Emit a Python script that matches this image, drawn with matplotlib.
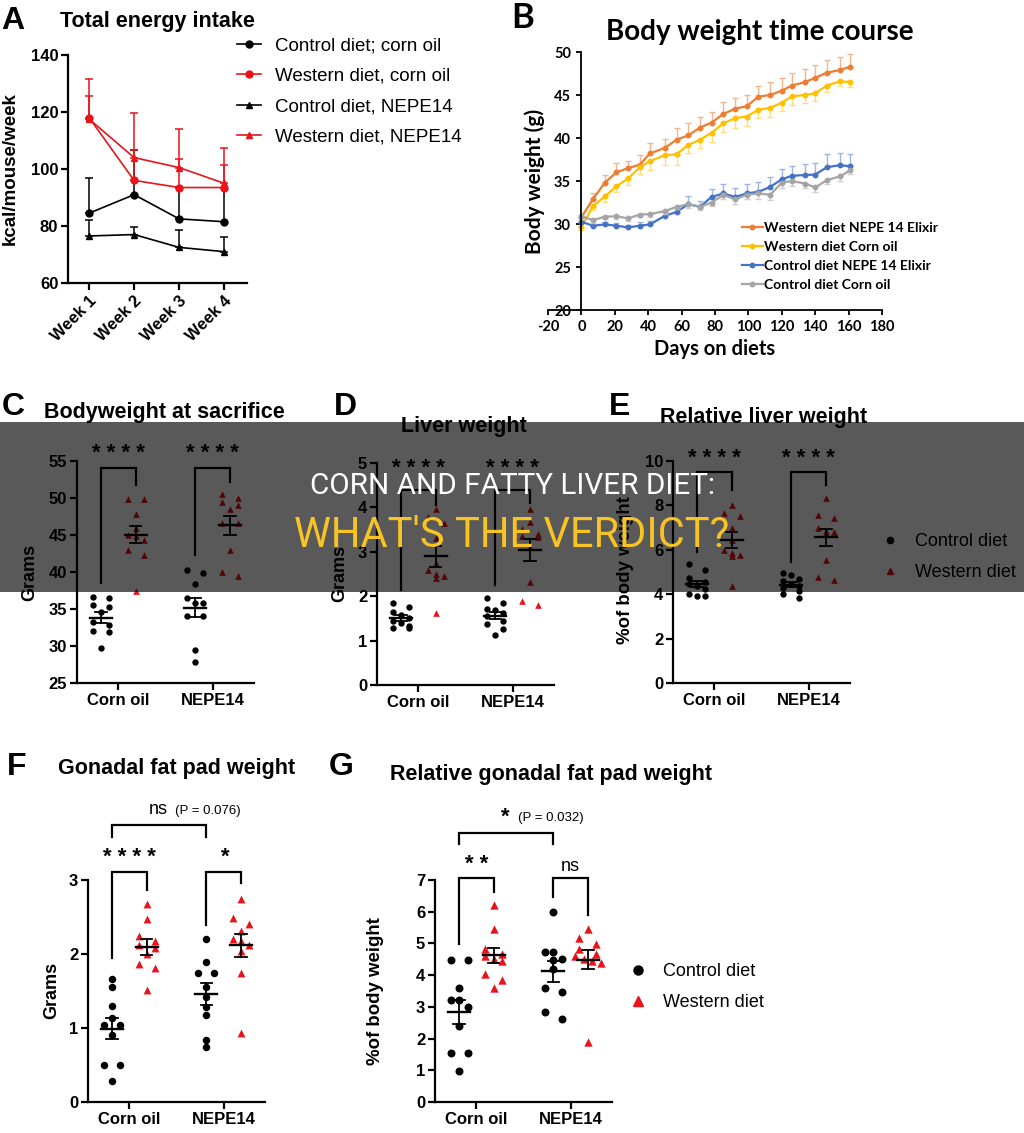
import matplotlib.pyplot as plt
import numpy as np
from matplotlib.lines import Line2D
from matplotlib.patches import Rectangle

plt.rcParams['font.family'] = ['Liberation Sans', 'DejaVu Sans']
plt.rcParams['font.weight'] = 'bold'
plt.rcParams['axes.unicode_minus'] = False

W, H = 1024, 1133
RED = '#E8141B'

# ---------------- panel A: total energy intake
weeks = ['Week 1', 'Week 2', 'Week 3', 'Week 4']
a_ctrl_corn = [84.5, 91.0, 82.5, 81.5]
a_ctrl_corn_err = [12.5, 15.5, 11.0, 12.0]
a_west_corn = [118.0, 96.0, 93.5, 93.5]
a_west_corn_err = [13.5, 23.5, 20.5, 14.0]
a_ctrl_nepe = [76.5, 77.0, 72.5, 71.0]
a_ctrl_nepe_err = [5.5, 2.5, 6.0, 5.0]
a_west_nepe = [117.5, 104.0, 100.5, 95.0]
a_west_nepe_err = [8.0, 2.5, 3.0, 6.5]
a_labels = ['Control diet; corn oil', 'Western diet, corn oil',
            'Control diet, NEPE14', 'Western diet, NEPE14']

# ---------------- panel B: body weight time course
days = [0, 7, 14, 21, 28, 35, 41, 50, 57, 64, 71, 78, 85, 92, 99, 106,
        113, 120, 126, 134, 140, 147, 155, 161]
b_west_nepe = [30.8, 32.9, 34.8, 36.0, 36.5, 36.9, 38.2, 38.85, 39.8, 40.3, 41.2, 41.8,
               42.8, 43.4, 43.7, 44.8, 45.0, 45.5, 46.1, 46.5, 47.0, 47.6, 47.9, 48.3]
b_west_nepe_err = [0.3, 0.7, 0.9, 1.15, 0.8, 1.1, 1.2, 1.05, 1.4, 1.4, 1.25, 1.2,
                   1.4, 1.2, 1.3, 1.2, 1.5, 1.5, 1.45, 1.55, 1.45, 1.5, 1.5, 1.5]
b_west_corn = [29.6, 32.1, 33.2, 34.4, 35.3, 36.6, 37.3, 38.0, 38.1, 39.2, 39.8, 40.6,
               41.7, 42.3, 42.5, 43.3, 43.5, 44.1, 44.85, 45.0, 45.2, 46.1, 46.6, 46.5]
b_west_corn_err = [0.3, 0.5, 0.6, 0.7, 0.8, 0.8, 1.0, 1.1, 1.2, 0.9, 1.0, 1.1,
                   1.0, 1.1, 1.1, 1.0, 1.0, 1.0, 1.0, 0.9, 0.9, 0.8, 0.6, 0.6]
b_ctrl_nepe = [30.25, 29.8, 29.95, 29.8, 29.6, 29.8, 29.95, 30.95, 31.4, 32.3, 32.0, 33.15,
               33.55, 33.15, 33.55, 33.75, 34.3, 35.2, 35.6, 35.7, 35.75, 36.6, 36.85, 36.7]
b_ctrl_nepe_err = [0.3, 0.2, 0.3, 0.3, 0.3, 0.4, 0.4, 0.4, 0.5, 0.9, 0.7, 0.95,
                   1.15, 1.0, 1.1, 1.1, 1.2, 1.25, 1.2, 1.3, 1.4, 1.5, 1.45, 1.4]
b_ctrl_corn = [30.9, 30.45, 30.85, 30.9, 30.65, 31.1, 31.15, 31.5, 32.0, 32.3, 32.0, 32.5,
               33.4, 32.85, 33.4, 33.55, 33.4, 34.8, 35.0, 34.7, 34.25, 35.1, 35.55, 36.25]
b_ctrl_corn_err = [0.3, 0.3, 0.3, 0.3, 0.3, 0.3, 0.3, 0.3, 0.3, 0.4, 0.4, 0.4,
                   0.5, 0.5, 0.5, 0.6, 0.6, 0.6, 0.6, 0.5, 0.5, 0.5, 0.5, 0.4]
b_labels = ['Western diet NEPE 14 Elixir', 'Western diet Corn oil',
            'Control diet NEPE 14 Elixir', 'Control diet Corn oil']
b_colors = ['#ED7D31', '#FFC000', '#4472C4', '#A5A5A5']
b_err_colors = ['#F4B58C', '#FFDD80', '#9DB5E2', '#CFCFCF']

# ---------------- panels C-G: individual mice
groups = ['Corn oil', 'NEPE14']

c_ctrl = [[36.6, 36.5, 35.6, 35.3, 34.6, 33.2, 32.9, 31.9, 32.0, 29.7],
          [39.8, 40.3, 38.4, 36.5, 35.8, 35.8, 34.0, 34.0, 29.5, 27.8]]
c_west = [[49.8, 49.8, 47.9, 46.0, 45.0, 44.9, 44.3, 43.0, 42.3, 37.4],
          [50.0, 50.5, 49.1, 49.5, 48.5, 46.6, 46.6, 43.0, 39.4, 40.0]]

d_ctrl = [[1.84, 1.75, 1.65, 1.58, 1.52, 1.45, 1.40, 1.32, 1.28, 1.28],
          [1.95, 1.84, 1.72, 1.68, 1.62, 1.55, 1.45, 1.38, 1.27, 1.12]]
d_west = [[3.97, 3.78, 3.65, 3.30, 2.75, 2.58, 2.50, 2.45, 2.40, 1.62],
          [3.97, 3.67, 3.52, 3.41, 3.34, 3.36, 3.10, 2.33, 1.80, 1.89]]

e_ctrl = [[5.35, 5.10, 4.75, 4.55, 4.45, 4.35, 4.25, 4.00, 3.90, 3.90],
          [4.95, 4.85, 4.70, 4.60, 4.45, 4.35, 4.30, 4.15, 4.00, 3.85]]
e_west = [[8.02, 7.68, 7.53, 7.00, 6.45, 6.00, 5.85, 5.77, 5.70, 4.35],
          [8.32, 7.57, 7.42, 7.00, 6.85, 6.80, 6.72, 5.52, 4.77, 4.62]]

f_ctrl = [[1.66, 1.56, 1.30, 1.14, 1.04, 1.04, 0.90, 0.50, 0.50, 0.29],
          [2.20, 1.89, 1.74, 1.74, 1.56, 1.42, 1.28, 1.18, 0.84, 0.74]]
f_west = [[2.68, 2.47, 2.24, 2.17, 2.12, 2.08, 2.00, 1.87, 1.81, 1.52],
          [2.75, 2.49, 2.41, 2.31, 2.20, 2.17, 2.12, 2.04, 1.75, 0.93]]

g_ctrl = [[4.47, 4.47, 3.60, 3.21, 3.21, 3.00, 2.40, 1.53, 1.53, 0.98],
          [6.00, 4.72, 4.72, 4.47, 4.50, 4.20, 3.47, 3.60, 2.84, 2.63]]
g_west = [[6.21, 5.44, 4.84, 4.68, 4.60, 4.52, 4.45, 4.05, 3.85, 3.58],
          [5.44, 5.18, 4.98, 4.84, 4.68, 4.60, 4.50, 4.45, 4.37, 1.89]]

fig = plt.figure(figsize=(W / 100, H / 100), dpi=100)


def px_axes(x0, y0, x1, y1):
    return fig.add_axes([x0 / W, 1 - y1 / H, (x1 - x0) / W, (y1 - y0) / H])


def ftext(x, y, s, **kw):
    return fig.text(x / W, 1 - y / H, s, **kw)


def prism(ax, size=12):
    for s in ['top', 'right']:
        ax.spines[s].set_visible(False)
    for s in ['left', 'bottom']:
        ax.spines[s].set_linewidth(1.6)
    ax.tick_params(width=1.6, length=5, labelsize=size, pad=2)


# ================= A =================
axA = px_axes(68, 55, 247, 283)
prism(axA)
xw = np.arange(1, 5)
for vals, err, col, mk in [(a_ctrl_corn, a_ctrl_corn_err, 'k', 'o'),
                           (a_west_corn, a_west_corn_err, RED, 'o'),
                           (a_ctrl_nepe, a_ctrl_nepe_err, 'k', '^'),
                           (a_west_nepe, a_west_nepe_err, RED, '^')]:
    axA.errorbar(xw, vals, yerr=[np.zeros(4), err], fmt='none', ecolor=col,
                 elinewidth=1.1, capsize=3, capthick=1.1)
    axA.plot(xw, vals, color=col, marker=mk, ms=5, lw=1.2)
axA.set_xlim(0.53, 4.51)
axA.set_ylim(60, 140)
axA.set_yticks([60, 80, 100, 120, 140])
axA.set_xticks(xw, weeks, rotation=45, ha='right', rotation_mode='anchor')
ftext(10, 169, 'kcal/mouse/week', rotation=90, ha='center', va='center', fontsize=13.5)
ftext(1, 29, 'A', fontsize=23)
ftext(60, 27, 'Total energy intake', fontsize=15.5)
hA = [Line2D([], [], color='k', marker='o', ms=5, lw=1.2),
      Line2D([], [], color=RED, marker='o', ms=5, lw=1.2),
      Line2D([], [], color='k', marker='^', ms=5, lw=1.2),
      Line2D([], [], color=RED, marker='^', ms=5, lw=1.2)]
fig.legend(hA, a_labels, loc='upper left', bbox_to_anchor=(237 / W, 1 - 37 / H),
           frameon=False, prop={'size': 13.5, 'weight': 'normal'}, handlelength=1.3,
           handletextpad=0.75, labelspacing=0.72, borderpad=0, borderaxespad=0)

# ================= B =================
axB = px_axes(548, 52, 882, 310)
axB.set_xlim(-20, 180)
axB.set_ylim(20, 50)
axB.spines['left'].set_position(('data', 0))
for s in ['top', 'right']:
    axB.spines[s].set_visible(False)
for s in ['left', 'bottom']:
    axB.spines[s].set_linewidth(1.3)
b_series = [(b_west_nepe, b_west_nepe_err, 'up'), (b_west_corn, b_west_corn_err, 'down'),
            (b_ctrl_nepe, b_ctrl_nepe_err, 'up'), (b_ctrl_corn, b_ctrl_corn_err, 'down')]
for (vals, err, side), col, ecol, lab in zip(b_series, b_colors, b_err_colors, b_labels):
    z = np.zeros(len(err))
    yerr = [z, err] if side == 'up' else [err, z]
    axB.errorbar(days, vals, yerr=yerr, fmt='none', ecolor=ecol, elinewidth=1,
                 capsize=2.2, capthick=1)
    axB.plot(days, vals, color=col, marker='o', ms=3.2, lw=1.6, label=lab)
axB.set_yticks(range(20, 51, 5))
axB.set_xticks(range(-20, 181, 20))
axB.tick_params(width=1.3, length=3.5, labelsize=10.5, pad=4)
for lab in axB.get_xticklabels() + axB.get_yticklabels():
    lab.set_fontfamily('Lato')
axB.legend(loc='upper left', bbox_to_anchor=(742 / W, 1 - 222 / H),
           bbox_transform=fig.transFigure, frameon=False,
           prop={'family': 'Lato', 'weight': 'bold', 'size': 10}, handlelength=1.5,
           handletextpad=0.1, labelspacing=0.5, borderpad=0, borderaxespad=0)
ftext(511, 28, 'B', fontsize=25, family='Lato')
ftext(760, 40, 'Body weight time course', fontsize=20, family='Lato', ha='center')
ftext(535, 181, 'Body weight (g)', rotation=90, ha='center', va='center',
      fontsize=15, family='Lato')
ftext(715, 355, 'Days on diets', ha='center', fontsize=14.5, family='Lato')

# ================= C-G =================
OFF = 0.185


def swarm_x(ax, xc, vals, d_px, lane_px):
    # spread points whose markers would overlap into side-by-side lanes
    x0, x1 = ax.get_xlim()
    ppu = ax.get_position().width * W / (x1 - x0)
    vals = np.asarray(vals, float)
    ypx = ax.transData.transform(np.column_stack([np.full(len(vals), xc), vals]))[:, 1]
    xs = np.full(len(vals), float(xc))
    bins = []
    for i in np.argsort(-ypx):
        if bins and abs(ypx[bins[-1][0]] - ypx[i]) < d_px:
            bins[-1].append(i)
        else:
            bins.append([i])
    for b in bins:
        n = len(b)
        step = lane_px * (2 if n == 2 else 1)
        for k, i in enumerate(b):
            xs[i] = xc + (k - (n - 1) / 2) * step / ppu
    return xs


def mean_sem(ax, xc, vals):
    v = np.asarray(vals)
    m = v.mean()
    se = v.std(ddof=1) / np.sqrt(len(v))
    ax.plot([xc - 0.12, xc + 0.12], [m, m], color='k', lw=1.7, zorder=5)
    ax.plot([xc, xc], [m - se, m + se], color='k', lw=1.3, zorder=5)
    for yy in (m - se, m + se):
        ax.plot([xc - 0.06, xc + 0.06], [yy, yy], color='k', lw=1.3, zorder=5)


def bracket(ax, xa, xb, ya, yb, ytop):
    ax.plot([xa, xa, xb, xb], [ya, ytop, ytop, yb], color='k', lw=1.6,
            clip_on=False, solid_joinstyle='miter')


def dot_panel(x0, y0, y1, ylim, yticks, ctrl, west, s, d_px, lane_px):
    ax = px_axes(x0, y0, x0 + 177, y1)
    ax.set_xlim(-0.44, 1.44)
    ax.set_ylim(*ylim)
    prism(ax)
    ax.set_yticks(yticks)
    ax.set_xticks([0, 1], groups)
    for g in range(2):
        xc = g - OFF
        ax.scatter(swarm_x(ax, xc, ctrl[g], d_px, lane_px), ctrl[g], s=s, marker='o',
                   color='k', linewidths=0, zorder=3, clip_on=False)
        mean_sem(ax, xc, ctrl[g])
        xc = g + OFF
        ax.scatter(swarm_x(ax, xc, west[g], d_px, lane_px), west[g], s=s * 1.1, marker='^',
                   color=RED, linewidths=0, zorder=3, clip_on=False)
        mean_sem(ax, xc, west[g])
    return ax


def stars(ax, x, y, txt, size=16):
    ax.text(x, y, txt, ha='center', va='center', fontsize=size, fontweight='bold',
            clip_on=False)


TS = 15.5  # panel title size

# C
axC = dot_panel(77, 461, 683, (25, 55), range(25, 56, 5), c_ctrl, c_west, 21, 6, 8)
bracket(axC, -OFF, OFF, 38.5, 51.8, 54.05)
bracket(axC, 1 - OFF, 1 + OFF, 42.3, 52.2, 54.05)
stars(axC, 0, 56.0, '* * * *')
stars(axC, 1, 56.0, '* * * *')
ftext(2, 415, 'C', fontsize=23)
ftext(44, 418, 'Bodyweight at sacrifice', fontsize=TS)
ftext(30, 572, 'Grams', rotation=90, ha='center', va='center', fontsize=13)

# D
axD = dot_panel(377, 463, 685, (0, 5), range(0, 6), d_ctrl, d_west, 21, 6, 8)
bracket(axD, -OFF, OFF, 2.14, 4.05, 4.39)
bracket(axD, 1 - OFF, 1 + OFF, 2.25, 4.09, 4.39)
stars(axD, 0, 4.88, '* * * *')
stars(axD, 1, 4.88, '* * * *')
ftext(334, 415, 'D', fontsize=23)
ftext(464, 432, 'Liver weight', fontsize=TS, ha='center')
ftext(340, 573, 'Grams', rotation=90, ha='center', va='center', fontsize=13)

# E
axE = dot_panel(673, 461, 683, (0, 10), range(0, 11, 2), e_ctrl, e_west, 21, 6, 8)
bracket(axE, -OFF, OFF, 5.9, 8.7, 9.5)
bracket(axE, 1 - OFF, 1 + OFF, 5.45, 8.9, 9.5)
stars(axE, 0, 10.1, '* * * *')
stars(axE, 1, 10.1, '* * * *')
ftext(609, 415, 'E', fontsize=23)
ftext(660, 423, 'Relative liver weight', fontsize=TS)
ftext(626, 570, '%of body weight', rotation=90, ha='center', va='center', fontsize=13.4)
hE = [Line2D([], [], ls='none', marker='o', color='k', ms=4.5),
      Line2D([], [], ls='none', marker='^', color=RED, ms=4.5)]
fig.legend(hE, ['Control diet', 'Western diet'], loc='center left',
           bbox_to_anchor=(881 / W, 1 - 557 / H), frameon=False,
           prop={'size': 13, 'weight': 'normal'}, handlelength=1.0, handletextpad=0.9,
           labelspacing=0.78, borderpad=0, borderaxespad=0)

# F
axF = dot_panel(88, 880, 1102, (0, 3), range(0, 4), f_ctrl, f_west, 29, 7, 8)
bracket(axF, -OFF, OFF, 1.95, 2.87, 3.11)
bracket(axF, 1 - OFF, 1 + OFF, 2.39, 2.96, 3.11)
bracket(axF, -OFF, 1 - OFF, 3.58, 3.58, 3.74)
stars(axF, 0, 3.31, '* * * *')
stars(axF, 1 + 0.02, 3.31, '*')
axF.text(0.31, 3.89, 'ns', ha='center', va='baseline', fontsize=13, fontweight='normal')
axF.text(0.48, 3.89, '(P = 0.076)', ha='left', va='baseline', fontsize=9.5,
         fontweight='normal')
ftext(7, 775, 'F', fontsize=23)
ftext(58, 774, 'Gonadal fat pad weight', fontsize=TS)
ftext(52, 990, 'Grams', rotation=90, ha='center', va='center', fontsize=13)

# G
axG = dot_panel(435, 880, 1102, (0, 7), range(0, 8), g_ctrl, g_west, 33, 7.5, 8.5)
bracket(axG, -OFF, OFF, 4.98, 6.62, 7.06)
bracket(axG, 1 - OFF, 1 + OFF, 6.46, 5.9, 7.06)
bracket(axG, -OFF, 1 - OFF, 8.13, 8.13, 8.48)
stars(axG, 0, 7.5, '* *')
axG.text(1, 7.42, 'ns', ha='center', va='center', fontsize=13, fontweight='normal')
stars(axG, 0.31, 8.99, '*')
axG.text(0.44, 8.86, '(P = 0.032)', ha='left', va='baseline', fontsize=9.5,
         fontweight='normal')
ftext(329, 775, 'G', fontsize=23)
ftext(390, 780, 'Relative gonadal fat pad weight', fontsize=TS)
ftext(375, 991, '%of body weight', rotation=90, ha='center', va='center', fontsize=13.4)
hG = [Line2D([], [], ls='none', marker='o', color='k', ms=6.5),
      Line2D([], [], ls='none', marker='^', color=RED, ms=6.5)]
fig.legend(hG, ['Control diet', 'Western diet'], loc='center left',
           bbox_to_anchor=(629 / W, 1 - 987 / H), frameon=False,
           prop={'size': 13, 'weight': 'normal'}, handlelength=1.0, handletextpad=0.9,
           labelspacing=0.78, borderpad=0, borderaxespad=0)

# ================= title banner =================
fig.patches.append(Rectangle((0, 1 - 592 / H), 1, 170 / H, transform=fig.transFigure,
                             facecolor='black', alpha=0.65, zorder=10))
ftext(512, 494, 'CORN AND FATTY LIVER DIET:', ha='center', va='baseline', color='white',
      fontsize=21.3, family='Roboto', fontweight='normal', zorder=11)
ftext(512, 547, "WHAT'S THE VERDICT?", ha='center', va='baseline', color='#F7C325',
      fontsize=30, family='Roboto', fontweight='normal', zorder=11)

fig.savefig('out.png', dpi=100)
